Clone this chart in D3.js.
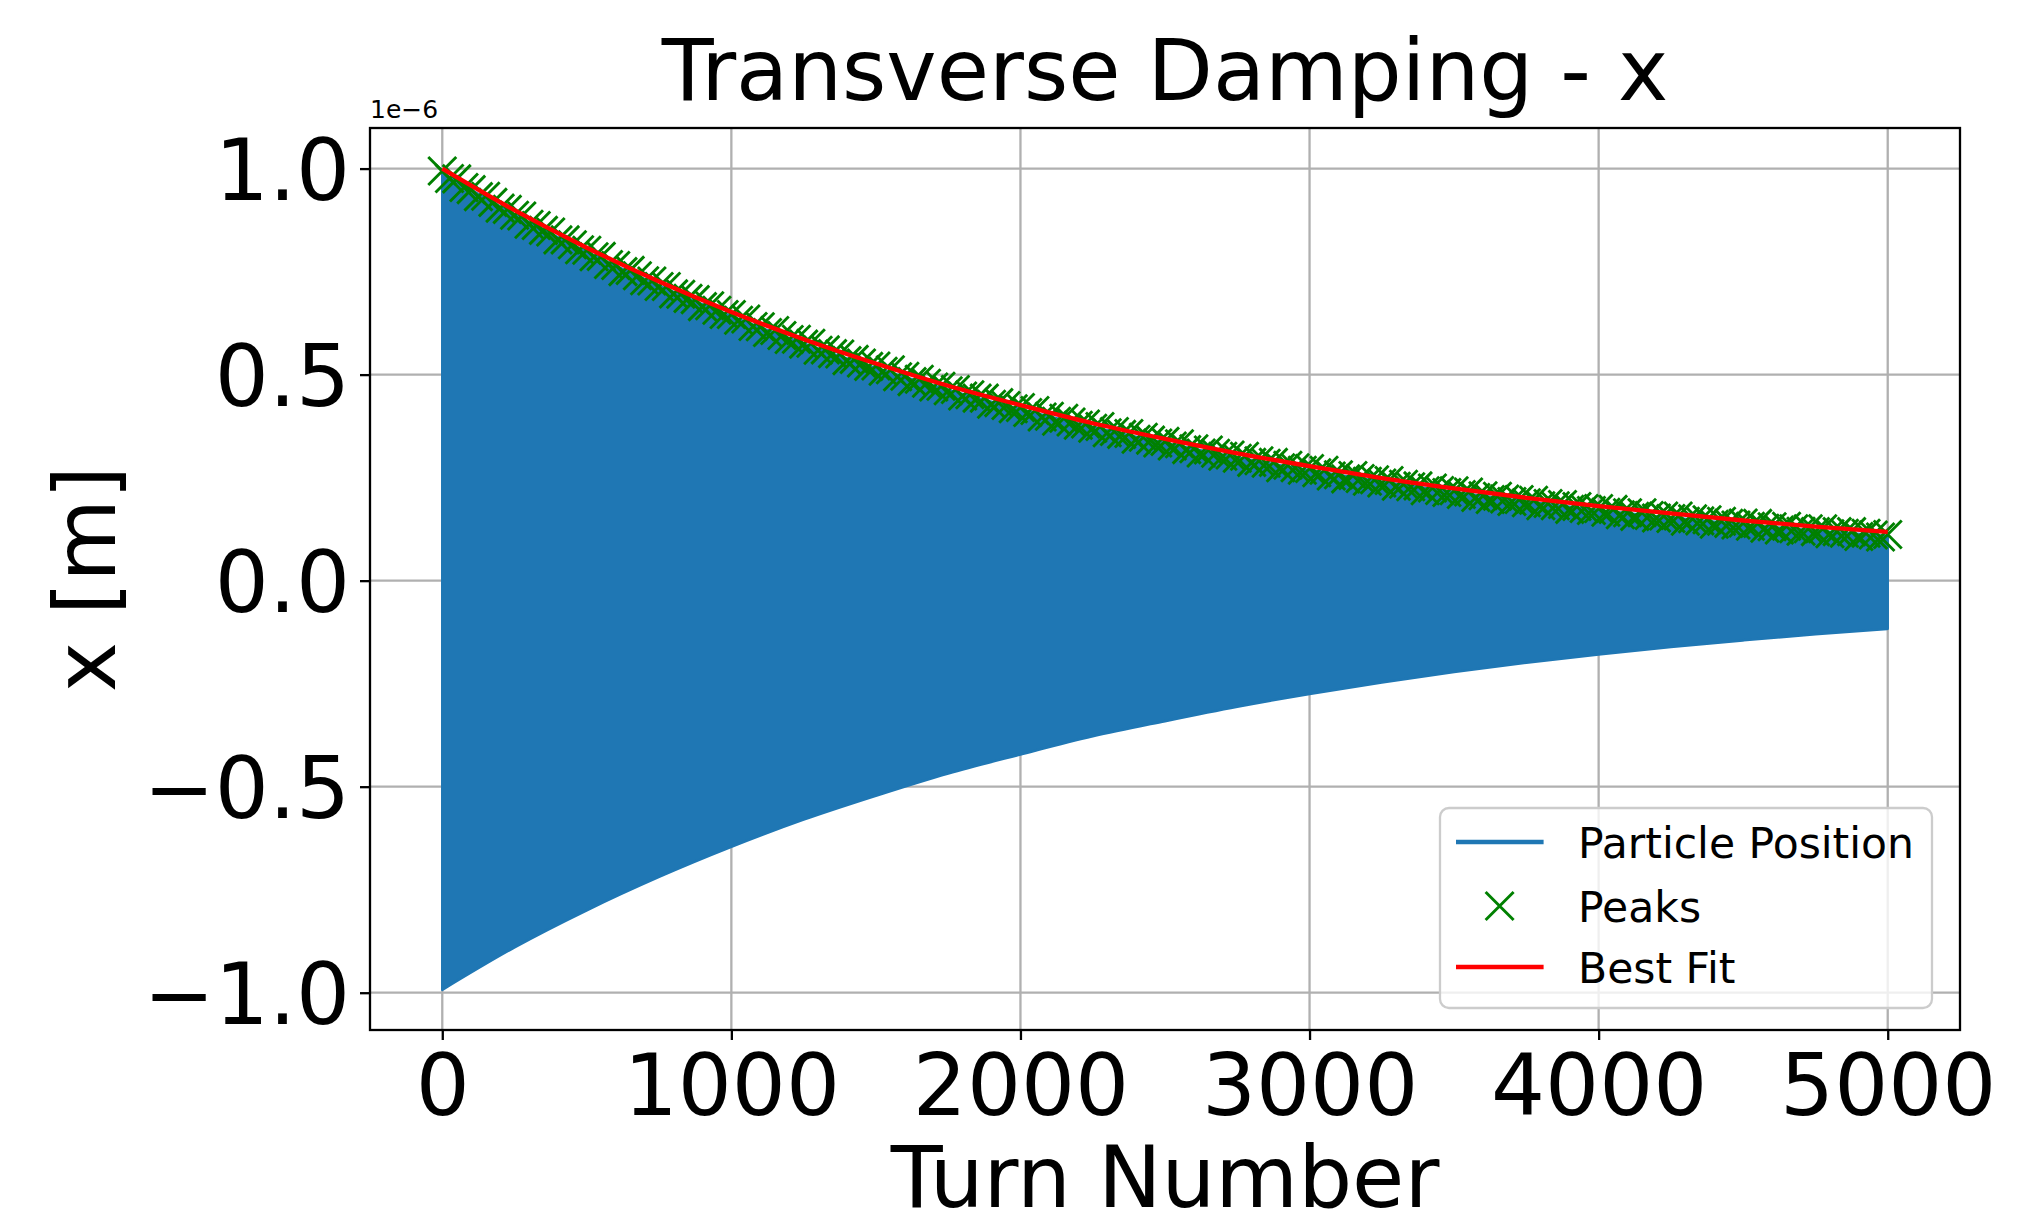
<!DOCTYPE html>
<html>
<head>
<meta charset="utf-8">
<script src="https://cdn.jsdelivr.net/npm/d3@7"></script>
<style>
  html, body { margin: 0; padding: 0; background: #fff; }
  svg { display: block; font-family: "DejaVu Sans", sans-serif; }
</style>
</head>
<body>
<div id="chart"></div>
<script>
// values are in units of 1e-6 m
const xTicks = [0, 1000, 2000, 3000, 4000, 5000];
const xTickLabels = ["0", "1000", "2000", "3000", "4000", "5000"];
const yTicks = [-1.0, -0.5, 0.0, 0.5, 1.0];
const yTickLabels = ["\u22121.0", "\u22120.5", "0.0", "0.5", "1.0"];

// envelope of the particle position trace, read every 250 turns
const envTurns = [0, 250, 500, 750, 1000, 1250, 1500, 1750, 2000, 2250, 2500,
  2750, 3000, 3250, 3500, 3750, 4000, 4250, 4500, 4750, 5000];
const envUpper = [0.990, 0.889, 0.798, 0.716, 0.642, 0.576, 0.516, 0.463, 0.416, 0.373, 0.334,
  0.299, 0.268, 0.240, 0.215, 0.192, 0.171, 0.153, 0.136, 0.121, 0.108];
const envLower = [-0.993, -0.890, -0.800, -0.719, -0.646, -0.580, -0.522, -0.468, -0.422, -0.378, -0.341,
  -0.306, -0.275, -0.247, -0.222, -0.199, -0.179, -0.161, -0.145, -0.130, -0.117];

// best fit curve
const fitTurns = envTurns;
const fitValues = [1.000, 0.899, 0.808, 0.726, 0.652, 0.586, 0.527, 0.473, 0.426, 0.382, 0.344,
  0.309, 0.278, 0.249, 0.224, 0.201, 0.181, 0.163, 0.146, 0.131, 0.118];

// detected peaks, one every 25 turns
const peakTurns = d3.range(0, 5001, 25);
const peakValues = [
  0.994, 0.976, 0.975, 0.954, 0.949, 0.932, 0.933, 0.918, 0.904, 0.901,
  0.887, 0.885, 0.865, 0.862, 0.850, 0.846, 0.827, 0.827, 0.815, 0.803,
  0.802, 0.786, 0.787, 0.767, 0.765, 0.750, 0.753, 0.740, 0.728, 0.727,
  0.714, 0.714, 0.696, 0.695, 0.685, 0.682, 0.665, 0.667, 0.656, 0.646,
  0.646, 0.632, 0.635, 0.617, 0.616, 0.602, 0.607, 0.595, 0.585, 0.586,
  0.574, 0.576, 0.559, 0.560, 0.551, 0.550, 0.534, 0.537, 0.528, 0.520,
  0.521, 0.508, 0.512, 0.495, 0.496, 0.483, 0.489, 0.479, 0.470, 0.472,
  0.461, 0.464, 0.448, 0.451, 0.443, 0.443, 0.428, 0.432, 0.425, 0.417,
  0.420, 0.408, 0.413, 0.397, 0.399, 0.387, 0.394, 0.385, 0.377, 0.380,
  0.370, 0.374, 0.359, 0.362, 0.355, 0.357, 0.343, 0.348, 0.341, 0.334,
  0.338, 0.327, 0.332, 0.318, 0.320, 0.310, 0.317, 0.309, 0.302, 0.305,
  0.297, 0.302, 0.287, 0.291, 0.285, 0.287, 0.274, 0.280, 0.274, 0.268,
  0.272, 0.262, 0.268, 0.254, 0.257, 0.247, 0.255, 0.248, 0.241, 0.245,
  0.237, 0.243, 0.229, 0.234, 0.228, 0.230, 0.218, 0.225, 0.219, 0.214,
  0.218, 0.209, 0.215, 0.202, 0.206, 0.197, 0.205, 0.198, 0.192, 0.197,
  0.189, 0.195, 0.182, 0.187, 0.182, 0.185, 0.173, 0.180, 0.175, 0.170,
  0.175, 0.166, 0.173, 0.160, 0.165, 0.156, 0.165, 0.158, 0.152, 0.157,
  0.151, 0.157, 0.144, 0.150, 0.145, 0.148, 0.137, 0.144, 0.139, 0.135,
  0.140, 0.132, 0.139, 0.127, 0.131, 0.123, 0.132, 0.126, 0.120, 0.126,
  0.119, 0.126, 0.114, 0.119, 0.115, 0.119, 0.107, 0.115, 0.111, 0.106,
  0.112
];

const legendItems = ["Particle Position", "Peaks", "Best Fit"];

const width = 2024, height = 1225;
const margin = {top: 128, right: 64, bottom: 195, left: 370};
const plotW = width - margin.left - margin.right;
const plotH = height - margin.top - margin.bottom;

const blue = "#1f77b4", green = "#008000", red = "#ff0000";
const bigFont = "85px";

const svg = d3.select("#chart").append("svg")
  .attr("width", width)
  .attr("height", height);

svg.append("rect")
  .attr("width", width)
  .attr("height", height)
  .attr("fill", "#fff");

const x = d3.scaleLinear().domain([-250, 5250]).range([0, plotW]);
const y = d3.scaleLinear().domain([-1.0905, 1.0985]).range([plotH, 0]);

const g = svg.append("g")
  .attr("transform", `translate(${margin.left},${margin.top})`);

// grid
g.append("g").selectAll("line").data(xTicks).join("line")
  .attr("x1", d => x(d)).attr("x2", d => x(d))
  .attr("y1", 0).attr("y2", plotH)
  .attr("stroke", "#b0b0b0").attr("stroke-width", 2.3);
g.append("g").selectAll("line").data(yTicks).join("line")
  .attr("x1", 0).attr("x2", plotW)
  .attr("y1", d => y(d)).attr("y2", d => y(d))
  .attr("stroke", "#b0b0b0").attr("stroke-width", 2.3);

// particle position (dense oscillation shown by its envelope)
const envData = envTurns.map((t, i) => ({t, hi: envUpper[i], lo: envLower[i]}));
g.append("path")
  .datum(envData)
  .attr("d", d3.area()
    .x(d => x(d.t))
    .y0(d => y(d.lo))
    .y1(d => y(d.hi))
    .curve(d3.curveMonotoneX))
  .attr("fill", blue)
  .attr("stroke", blue)
  .attr("stroke-width", 2.5)
  .attr("stroke-linejoin", "round");

// peaks
const ms = 14;
const peakG = g.append("g")
  .attr("stroke", green)
  .attr("stroke-width", 2.9)
  .attr("fill", "none");
peakG.selectAll("path").data(peakTurns.map((t, i) => [t, peakValues[i]])).join("path")
  .attr("d", d => {
    const px = x(d[0]), py = y(d[1]);
    return `M${px - ms},${py - ms}L${px + ms},${py + ms}M${px - ms},${py + ms}L${px + ms},${py - ms}`;
  });

// best fit
g.append("path")
  .datum(fitTurns.map((t, i) => [t, fitValues[i]]))
  .attr("d", d3.line()
    .x(d => x(d[0]))
    .y(d => y(d[1]))
    .curve(d3.curveMonotoneX))
  .attr("fill", "none")
  .attr("stroke", red)
  .attr("stroke-width", 4.3);

// axes
const xAxis = g.append("g")
  .attr("transform", `translate(0,${plotH})`)
  .call(d3.axisBottom(x).tickValues(xTicks)
    .tickFormat((d, i) => xTickLabels[i])
    .tickSize(10).tickPadding(10));
const yAxis = g.append("g")
  .call(d3.axisLeft(y).tickValues(yTicks)
    .tickFormat((d, i) => yTickLabels[i])
    .tickSize(10).tickPadding(10));

[xAxis, yAxis].forEach(a => {
  a.select(".domain").remove();
  a.selectAll(".tick line").attr("stroke", "#000").attr("stroke-width", 2.3);
  a.selectAll(".tick text")
    .attr("fill", "#000")
    .style("font-family", "DejaVu Sans")
    .style("font-size", bigFont);
});
xAxis.selectAll(".tick text").attr("dy", "0.76em");
yAxis.selectAll(".tick text").attr("dy", "0.36em");

g.append("rect")
  .attr("width", plotW)
  .attr("height", plotH)
  .attr("fill", "none")
  .attr("stroke", "#000")
  .attr("stroke-width", 2.3);

// offset text
g.append("text")
  .attr("x", 0)
  .attr("y", -10)
  .style("font-size", "25px")
  .text("1e\u22126");

// titles
svg.append("text")
  .attr("x", margin.left + plotW / 2)
  .attr("y", 100)
  .attr("text-anchor", "middle")
  .style("font-size", bigFont)
  .text("Transverse Damping - x");

svg.append("text")
  .attr("x", margin.left + plotW / 2)
  .attr("y", 1207)
  .attr("text-anchor", "middle")
  .style("font-size", bigFont)
  .text("Turn Number");

svg.append("text")
  .attr("transform", `translate(115,${margin.top + plotH / 2}) rotate(-90)`)
  .attr("text-anchor", "middle")
  .style("font-size", bigFont)
  .text("x [m]");

// legend
const leg = svg.append("g").attr("transform", "translate(1440,808)");
leg.append("rect")
  .attr("width", 492)
  .attr("height", 200)
  .attr("rx", 9)
  .attr("fill", "rgba(255,255,255,0.8)")
  .attr("stroke", "#cccccc")
  .attr("stroke-width", 2.3);

const rowY = [34, 98, 159];
legendItems.forEach((label, i) => {
  const row = leg.append("g").attr("transform", `translate(0,${rowY[i]})`);
  if (i === 1) {
    row.append("path")
      .attr("d", `M${59.6 - ms},${-ms}L${59.6 + ms},${ms}M${59.6 - ms},${ms}L${59.6 + ms},${-ms}`)
      .attr("stroke", green)
      .attr("stroke-width", 2.9);
  } else {
    row.append("line")
      .attr("x1", 16).attr("x2", 103.6)
      .attr("y1", 0).attr("y2", 0)
      .attr("stroke", i === 0 ? blue : red)
      .attr("stroke-width", 4.3);
  }
  row.append("text")
    .attr("x", 138)
    .attr("y", 16)
    .style("font-size", "42.5px")
    .text(label);
});
</script>
</body>
</html>
